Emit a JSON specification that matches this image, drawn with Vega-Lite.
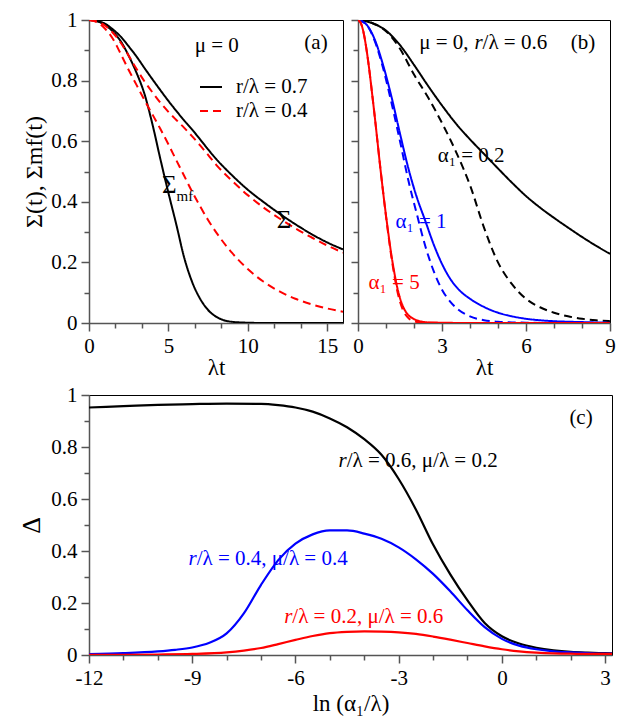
{
  "$schema": "https://vega.github.io/schema/vega-lite/v6.json",
  "background": "white",
  "padding": {"left": 18, "top": 8, "right": 5, "bottom": 5},
  "config": {
    "font": "Liberation Serif",
    "view": {"stroke": "black", "strokeWidth": 1},
    "axis": {
      "labelFont": "Liberation Serif", "labelFontSize": 21, "labelColor": "black",
      "titleFont": "Liberation Serif", "titleFontSize": 23, "titleFontWeight": "normal", "titleColor": "black",
      "grid": false, "domainColor": "#555", "tickColor": "#555", "domainWidth": 1.5, "tickWidth": 1.5,
      "labelPadding": 4, "labelFlush": false, "labelOverlap": false
    },
    "text": {"font": "Liberation Serif", "fontSize": 21, "baseline": "middle"},
    "line": {"interpolate": "monotone"}
  },
  "spacing": 3,
  "resolve": {"scale": {"color": "independent", "strokeDash": "independent"}},
  "vconcat": [
    {
      "spacing": 5,
      "resolve": {"scale": {"color": "independent", "strokeDash": "independent"}},
      "hconcat": [
        {
          "width": 254, "height": 303,
          "encoding": {
            "x": {"field": "t", "type": "quantitative", "scale": {"domain": [0, 16], "nice": false, "zero": false},
              "axis": {"title": "λt", "titlePadding": 0, "labelFont": "Liberation Serif", "titleFont": "Liberation Serif",
                "values": [0, 1.6667, 3.3333, 5, 6.6667, 8.3333, 10, 11.6667, 13.3333, 15],
                "labelExpr": "abs(datum.value % 5) < 0.001 ? toString(datum.value) : ''",
                "tickSize": {"condition": {"test": "abs(datum.value % 5) < 0.001", "value": 8}, "value": 5}}},
            "y": {"field": "v", "type": "quantitative", "scale": {"domain": [0, 1], "nice": false},
              "axis": {"title": "Σ(t), Σmf(t)", "titleFontSize": 24, "titlePadding": 4, "labelFont": "Liberation Serif", "titleFont": "Liberation Serif",
                "values": [0, 0.1, 0.2, 0.3, 0.4, 0.5, 0.6, 0.7, 0.8, 0.9, 1],
                "labelExpr": "round(datum.value*10) % 2 == 0 ? toString(datum.value) : ''",
                "tickSize": {"condition": {"test": "round(datum.value*10) % 2 == 0", "value": 8}, "value": 5}}}
          },
          "layer": [
            {
              "data": {"values": [
                {"t":0,"v":1,"r":"r/λ = 0.7","kind":"mf"},{"t":0.5,"v":0.996,"r":"r/λ = 0.7","kind":"mf"},{"t":1,"v":0.984,"r":"r/λ = 0.7","kind":"mf"},{"t":1.5,"v":0.962,"r":"r/λ = 0.7","kind":"mf"},{"t":2,"v":0.93,"r":"r/λ = 0.7","kind":"mf"},{"t":2.5,"v":0.882,"r":"r/λ = 0.7","kind":"mf"},{"t":3,"v":0.825,"r":"r/λ = 0.7","kind":"mf"},{"t":3.5,"v":0.755,"r":"r/λ = 0.7","kind":"mf"},{"t":4,"v":0.655,"r":"r/λ = 0.7","kind":"mf"},{"t":4.5,"v":0.54,"r":"r/λ = 0.7","kind":"mf"},{"t":5,"v":0.43,"r":"r/λ = 0.7","kind":"mf"},{"t":5.5,"v":0.325,"r":"r/λ = 0.7","kind":"mf"},{"t":6,"v":0.215,"r":"r/λ = 0.7","kind":"mf"},{"t":6.5,"v":0.135,"r":"r/λ = 0.7","kind":"mf"},{"t":7,"v":0.08,"r":"r/λ = 0.7","kind":"mf"},{"t":7.5,"v":0.043,"r":"r/λ = 0.7","kind":"mf"},{"t":8,"v":0.021,"r":"r/λ = 0.7","kind":"mf"},{"t":8.5,"v":0.009,"r":"r/λ = 0.7","kind":"mf"},{"t":9,"v":0.004,"r":"r/λ = 0.7","kind":"mf"},{"t":9.5,"v":0.002,"r":"r/λ = 0.7","kind":"mf"},{"t":10,"v":0.001,"r":"r/λ = 0.7","kind":"mf"},{"t":11,"v":0,"r":"r/λ = 0.7","kind":"mf"},{"t":13,"v":0,"r":"r/λ = 0.7","kind":"mf"},{"t":16,"v":0,"r":"r/λ = 0.7","kind":"mf"},
                {"t":0,"v":1,"r":"r/λ = 0.7","kind":"S"},{"t":0.5,"v":0.997,"r":"r/λ = 0.7","kind":"S"},{"t":1,"v":0.988,"r":"r/λ = 0.7","kind":"S"},{"t":1.5,"v":0.969,"r":"r/λ = 0.7","kind":"S"},{"t":2,"v":0.945,"r":"r/λ = 0.7","kind":"S"},{"t":2.5,"v":0.913,"r":"r/λ = 0.7","kind":"S"},{"t":3,"v":0.879,"r":"r/λ = 0.7","kind":"S"},{"t":3.5,"v":0.841,"r":"r/λ = 0.7","kind":"S"},{"t":4,"v":0.804,"r":"r/λ = 0.7","kind":"S"},{"t":4.5,"v":0.768,"r":"r/λ = 0.7","kind":"S"},{"t":5,"v":0.733,"r":"r/λ = 0.7","kind":"S"},{"t":5.5,"v":0.7,"r":"r/λ = 0.7","kind":"S"},{"t":6,"v":0.668,"r":"r/λ = 0.7","kind":"S"},{"t":6.5,"v":0.638,"r":"r/λ = 0.7","kind":"S"},{"t":7,"v":0.606,"r":"r/λ = 0.7","kind":"S"},{"t":7.5,"v":0.573,"r":"r/λ = 0.7","kind":"S"},{"t":8,"v":0.542,"r":"r/λ = 0.7","kind":"S"},{"t":9,"v":0.488,"r":"r/λ = 0.7","kind":"S"},{"t":10,"v":0.44,"r":"r/λ = 0.7","kind":"S"},{"t":11,"v":0.399,"r":"r/λ = 0.7","kind":"S"},{"t":12,"v":0.361,"r":"r/λ = 0.7","kind":"S"},{"t":13,"v":0.326,"r":"r/λ = 0.7","kind":"S"},{"t":14,"v":0.294,"r":"r/λ = 0.7","kind":"S"},{"t":15,"v":0.266,"r":"r/λ = 0.7","kind":"S"},{"t":16,"v":0.243,"r":"r/λ = 0.7","kind":"S"},
                {"t":0,"v":1,"r":"r/λ = 0.4","kind":"S"},{"t":0.5,"v":0.995,"r":"r/λ = 0.4","kind":"S"},{"t":1,"v":0.982,"r":"r/λ = 0.4","kind":"S"},{"t":1.5,"v":0.958,"r":"r/λ = 0.4","kind":"S"},{"t":2,"v":0.925,"r":"r/λ = 0.4","kind":"S"},{"t":2.5,"v":0.882,"r":"r/λ = 0.4","kind":"S"},{"t":3,"v":0.838,"r":"r/λ = 0.4","kind":"S"},{"t":3.5,"v":0.797,"r":"r/λ = 0.4","kind":"S"},{"t":4,"v":0.761,"r":"r/λ = 0.4","kind":"S"},{"t":4.5,"v":0.727,"r":"r/λ = 0.4","kind":"S"},{"t":5,"v":0.697,"r":"r/λ = 0.4","kind":"S"},{"t":5.5,"v":0.67,"r":"r/λ = 0.4","kind":"S"},{"t":6,"v":0.644,"r":"r/λ = 0.4","kind":"S"},{"t":6.5,"v":0.616,"r":"r/λ = 0.4","kind":"S"},{"t":7,"v":0.586,"r":"r/λ = 0.4","kind":"S"},{"t":7.5,"v":0.555,"r":"r/λ = 0.4","kind":"S"},{"t":8,"v":0.523,"r":"r/λ = 0.4","kind":"S"},{"t":9,"v":0.47,"r":"r/λ = 0.4","kind":"S"},{"t":10,"v":0.422,"r":"r/λ = 0.4","kind":"S"},{"t":11,"v":0.381,"r":"r/λ = 0.4","kind":"S"},{"t":12,"v":0.345,"r":"r/λ = 0.4","kind":"S"},{"t":13,"v":0.312,"r":"r/λ = 0.4","kind":"S"},{"t":14,"v":0.283,"r":"r/λ = 0.4","kind":"S"},{"t":15,"v":0.256,"r":"r/λ = 0.4","kind":"S"},{"t":16,"v":0.232,"r":"r/λ = 0.4","kind":"S"},
                {"t":0,"v":1,"r":"r/λ = 0.4","kind":"mf"},{"t":0.5,"v":0.993,"r":"r/λ = 0.4","kind":"mf"},{"t":1,"v":0.972,"r":"r/λ = 0.4","kind":"mf"},{"t":1.5,"v":0.938,"r":"r/λ = 0.4","kind":"mf"},{"t":2,"v":0.888,"r":"r/λ = 0.4","kind":"mf"},{"t":2.5,"v":0.835,"r":"r/λ = 0.4","kind":"mf"},{"t":3,"v":0.785,"r":"r/λ = 0.4","kind":"mf"},{"t":3.5,"v":0.735,"r":"r/λ = 0.4","kind":"mf"},{"t":4,"v":0.688,"r":"r/λ = 0.4","kind":"mf"},{"t":4.5,"v":0.64,"r":"r/λ = 0.4","kind":"mf"},{"t":5,"v":0.59,"r":"r/λ = 0.4","kind":"mf"},{"t":5.5,"v":0.537,"r":"r/λ = 0.4","kind":"mf"},{"t":6,"v":0.485,"r":"r/λ = 0.4","kind":"mf"},{"t":6.5,"v":0.433,"r":"r/λ = 0.4","kind":"mf"},{"t":7,"v":0.385,"r":"r/λ = 0.4","kind":"mf"},{"t":7.5,"v":0.34,"r":"r/λ = 0.4","kind":"mf"},{"t":8,"v":0.3,"r":"r/λ = 0.4","kind":"mf"},{"t":9,"v":0.232,"r":"r/λ = 0.4","kind":"mf"},{"t":10,"v":0.178,"r":"r/λ = 0.4","kind":"mf"},{"t":11,"v":0.136,"r":"r/λ = 0.4","kind":"mf"},{"t":12,"v":0.104,"r":"r/λ = 0.4","kind":"mf"},{"t":13,"v":0.08,"r":"r/λ = 0.4","kind":"mf"},{"t":14,"v":0.062,"r":"r/λ = 0.4","kind":"mf"},{"t":15,"v":0.048,"r":"r/λ = 0.4","kind":"mf"},{"t":16,"v":0.037,"r":"r/λ = 0.4","kind":"mf"}
              ]},
              "mark": {"type": "line", "strokeWidth": 2, "clip": true},
              "encoding": {
                "color": {"field": "r", "type": "nominal", "scale": {"domain": ["r/λ = 0.7", "r/λ = 0.4"], "range": ["black", "#ff0000"]},
                  "legend": {"title": null, "orient": "none", "legendX": 110, "legendY": 55, "symbolType": "stroke", "symbolSize": 484, "symbolStrokeWidth": 2, "labelFont": "Liberation Serif", "labelFontSize": 21, "labelOffset": 13, "rowPadding": 2, "padding": 0}},
                "strokeDash": {"field": "r", "type": "nominal", "scale": {"domain": ["r/λ = 0.7", "r/λ = 0.4"], "range": [[1, 0], [8, 5]]},
                  "legend": {"title": null, "orient": "none", "legendX": 110, "legendY": 55, "symbolType": "stroke", "symbolSize": 484, "symbolStrokeWidth": 2, "labelFont": "Liberation Serif", "labelFontSize": 21, "labelOffset": 13, "rowPadding": 2, "padding": 0}},
                "detail": {"field": "kind"}
              }
            },
            {
              "data": {"values": [{"t": 8.05, "v": 0.914, "label": "μ = 0"}, {"t": 14.3, "v": 0.924, "label": "(a)"}]},
              "mark": {"type": "text", "color": "black", "align": "center", "font": "Liberation Serif"},
              "encoding": {"text": {"field": "label"}}
            },
            {
              "data": {"values": [{"t": 5.05, "v": 0.455, "label": "Σ"}, {"t": 12.28, "v": 0.339, "label": "Σ"}]},
              "mark": {"type": "text", "color": "black", "align": "center", "fontSize": 25, "font": "Liberation Serif"},
              "encoding": {"text": {"field": "label"}}
            },
            {
              "data": {"values": [{"t": 6.04, "v": 0.419, "label": "mf"}]},
              "mark": {"type": "text", "color": "black", "align": "center", "fontSize": 15, "font": "Liberation Serif"},
              "encoding": {"text": {"field": "label"}}
            }
          ]
        },
        {
          "width": 252, "height": 303,
          "encoding": {
            "x": {"field": "t", "type": "quantitative", "scale": {"domain": [0, 9], "nice": false, "zero": false},
              "axis": {"title": "λt", "titlePadding": 0, "labelFont": "Liberation Serif", "titleFont": "Liberation Serif",
                "values": [0, 1, 2, 3, 4, 5, 6, 7, 8, 9],
                "labelExpr": "datum.value % 3 == 0 ? toString(datum.value) : ''",
                "tickSize": {"condition": {"test": "datum.value % 3 == 0", "value": 8}, "value": 5}}},
            "y": {"field": "v", "type": "quantitative", "scale": {"domain": [0, 1], "nice": false},
              "axis": {"title": null, "labels": false,
                "values": [0, 0.1, 0.2, 0.3, 0.4, 0.5, 0.6, 0.7, 0.8, 0.9, 1],
                "tickSize": {"condition": {"test": "round(datum.value*10) % 2 == 0", "value": 7}, "value": 5}}}
          },
          "layer": [
            {
              "data": {"values": [
                {"t":0,"v":1,"a":"0.2","kind":"S"},{"t":0.5,"v":0.99,"a":"0.2","kind":"S"},{"t":1,"v":0.965,"a":"0.2","kind":"S"},{"t":1.5,"v":0.917,"a":"0.2","kind":"S"},{"t":2,"v":0.852,"a":"0.2","kind":"S"},{"t":2.5,"v":0.783,"a":"0.2","kind":"S"},{"t":3,"v":0.718,"a":"0.2","kind":"S"},{"t":3.5,"v":0.658,"a":"0.2","kind":"S"},{"t":4,"v":0.606,"a":"0.2","kind":"S"},{"t":4.5,"v":0.558,"a":"0.2","kind":"S"},{"t":5,"v":0.51,"a":"0.2","kind":"S"},{"t":5.5,"v":0.463,"a":"0.2","kind":"S"},{"t":6,"v":0.419,"a":"0.2","kind":"S"},{"t":6.5,"v":0.381,"a":"0.2","kind":"S"},{"t":7,"v":0.347,"a":"0.2","kind":"S"},{"t":7.5,"v":0.315,"a":"0.2","kind":"S"},{"t":8,"v":0.284,"a":"0.2","kind":"S"},{"t":8.5,"v":0.255,"a":"0.2","kind":"S"},{"t":9,"v":0.228,"a":"0.2","kind":"S"},
                {"t":0,"v":1,"a":"0.2","kind":"mf"},{"t":0.5,"v":0.99,"a":"0.2","kind":"mf"},{"t":1,"v":0.963,"a":"0.2","kind":"mf"},{"t":1.5,"v":0.905,"a":"0.2","kind":"mf"},{"t":2,"v":0.82,"a":"0.2","kind":"mf"},{"t":2.5,"v":0.745,"a":"0.2","kind":"mf"},{"t":3,"v":0.66,"a":"0.2","kind":"mf"},{"t":3.5,"v":0.565,"a":"0.2","kind":"mf"},{"t":4,"v":0.455,"a":"0.2","kind":"mf"},{"t":4.5,"v":0.315,"a":"0.2","kind":"mf"},{"t":5,"v":0.2,"a":"0.2","kind":"mf"},{"t":5.5,"v":0.128,"a":"0.2","kind":"mf"},{"t":6,"v":0.08,"a":"0.2","kind":"mf"},{"t":6.5,"v":0.052,"a":"0.2","kind":"mf"},{"t":7,"v":0.034,"a":"0.2","kind":"mf"},{"t":7.5,"v":0.022,"a":"0.2","kind":"mf"},{"t":8,"v":0.014,"a":"0.2","kind":"mf"},{"t":8.5,"v":0.009,"a":"0.2","kind":"mf"},{"t":9,"v":0.006,"a":"0.2","kind":"mf"},
                {"t":0,"v":1,"a":"1","kind":"S"},{"t":0.3,"v":0.985,"a":"1","kind":"S"},{"t":0.6,"v":0.935,"a":"1","kind":"S"},{"t":0.9,"v":0.85,"a":"1","kind":"S"},{"t":1.2,"v":0.745,"a":"1","kind":"S"},{"t":1.5,"v":0.625,"a":"1","kind":"S"},{"t":1.8,"v":0.51,"a":"1","kind":"S"},{"t":2.1,"v":0.415,"a":"1","kind":"S"},{"t":2.4,"v":0.338,"a":"1","kind":"S"},{"t":2.7,"v":0.26,"a":"1","kind":"S"},{"t":3,"v":0.195,"a":"1","kind":"S"},{"t":3.3,"v":0.145,"a":"1","kind":"S"},{"t":3.6,"v":0.11,"a":"1","kind":"S"},{"t":4,"v":0.08,"a":"1","kind":"S"},{"t":4.5,"v":0.053,"a":"1","kind":"S"},{"t":5,"v":0.034,"a":"1","kind":"S"},{"t":5.5,"v":0.022,"a":"1","kind":"S"},{"t":6,"v":0.014,"a":"1","kind":"S"},{"t":6.5,"v":0.009,"a":"1","kind":"S"},{"t":7,"v":0.006,"a":"1","kind":"S"},{"t":8,"v":0.003,"a":"1","kind":"S"},{"t":9,"v":0.001,"a":"1","kind":"S"},
                {"t":0,"v":1,"a":"1","kind":"mf"},{"t":0.3,"v":0.985,"a":"1","kind":"mf"},{"t":0.6,"v":0.93,"a":"1","kind":"mf"},{"t":0.9,"v":0.84,"a":"1","kind":"mf"},{"t":1.2,"v":0.725,"a":"1","kind":"mf"},{"t":1.5,"v":0.6,"a":"1","kind":"mf"},{"t":1.8,"v":0.47,"a":"1","kind":"mf"},{"t":2.1,"v":0.36,"a":"1","kind":"mf"},{"t":2.4,"v":0.255,"a":"1","kind":"mf"},{"t":2.7,"v":0.172,"a":"1","kind":"mf"},{"t":3,"v":0.11,"a":"1","kind":"mf"},{"t":3.3,"v":0.07,"a":"1","kind":"mf"},{"t":3.6,"v":0.043,"a":"1","kind":"mf"},{"t":4,"v":0.022,"a":"1","kind":"mf"},{"t":4.5,"v":0.009,"a":"1","kind":"mf"},{"t":5,"v":0.004,"a":"1","kind":"mf"},{"t":5.5,"v":0.002,"a":"1","kind":"mf"},{"t":6,"v":0.001,"a":"1","kind":"mf"},{"t":7,"v":0,"a":"1","kind":"mf"},{"t":9,"v":0,"a":"1","kind":"mf"},
                {"t":0,"v":1,"a":"5","kind":"S"},{"t":0.1,"v":0.99,"a":"5","kind":"S"},{"t":0.2,"v":0.958,"a":"5","kind":"S"},{"t":0.3,"v":0.905,"a":"5","kind":"S"},{"t":0.4,"v":0.838,"a":"5","kind":"S"},{"t":0.5,"v":0.76,"a":"5","kind":"S"},{"t":0.6,"v":0.68,"a":"5","kind":"S"},{"t":0.7,"v":0.595,"a":"5","kind":"S"},{"t":0.8,"v":0.51,"a":"5","kind":"S"},{"t":0.9,"v":0.43,"a":"5","kind":"S"},{"t":1,"v":0.355,"a":"5","kind":"S"},{"t":1.1,"v":0.285,"a":"5","kind":"S"},{"t":1.2,"v":0.22,"a":"5","kind":"S"},{"t":1.3,"v":0.165,"a":"5","kind":"S"},{"t":1.4,"v":0.118,"a":"5","kind":"S"},{"t":1.5,"v":0.082,"a":"5","kind":"S"},{"t":1.6,"v":0.056,"a":"5","kind":"S"},{"t":1.7,"v":0.038,"a":"5","kind":"S"},{"t":1.8,"v":0.026,"a":"5","kind":"S"},{"t":2,"v":0.013,"a":"5","kind":"S"},{"t":2.2,"v":0.006,"a":"5","kind":"S"},{"t":2.5,"v":0.002,"a":"5","kind":"S"},{"t":3,"v":0.001,"a":"5","kind":"S"},{"t":4,"v":0,"a":"5","kind":"S"},{"t":9,"v":0,"a":"5","kind":"S"},
                {"t":0,"v":1,"a":"5","kind":"mf"},{"t":0.1,"v":0.99,"a":"5","kind":"mf"},{"t":0.2,"v":0.958,"a":"5","kind":"mf"},{"t":0.3,"v":0.905,"a":"5","kind":"mf"},{"t":0.4,"v":0.838,"a":"5","kind":"mf"},{"t":0.5,"v":0.76,"a":"5","kind":"mf"},{"t":0.6,"v":0.68,"a":"5","kind":"mf"},{"t":0.7,"v":0.595,"a":"5","kind":"mf"},{"t":0.8,"v":0.51,"a":"5","kind":"mf"},{"t":0.9,"v":0.43,"a":"5","kind":"mf"},{"t":1,"v":0.352,"a":"5","kind":"mf"},{"t":1.1,"v":0.28,"a":"5","kind":"mf"},{"t":1.2,"v":0.213,"a":"5","kind":"mf"},{"t":1.3,"v":0.156,"a":"5","kind":"mf"},{"t":1.4,"v":0.107,"a":"5","kind":"mf"},{"t":1.5,"v":0.07,"a":"5","kind":"mf"},{"t":1.6,"v":0.044,"a":"5","kind":"mf"},{"t":1.7,"v":0.027,"a":"5","kind":"mf"},{"t":1.8,"v":0.016,"a":"5","kind":"mf"},{"t":2,"v":0.006,"a":"5","kind":"mf"},{"t":2.2,"v":0.002,"a":"5","kind":"mf"},{"t":2.5,"v":0.001,"a":"5","kind":"mf"},{"t":3,"v":0,"a":"5","kind":"mf"},{"t":9,"v":0,"a":"5","kind":"mf"}
              ]},
              "mark": {"type": "line", "strokeWidth": 2, "clip": true},
              "encoding": {
                "color": {"field": "a", "type": "nominal", "scale": {"domain": ["0.2", "1", "5"], "range": ["black", "#0000ff", "#ff0000"]}, "legend": null},
                "strokeDash": {"field": "kind", "type": "nominal", "scale": {"domain": ["S", "mf"], "range": [[1, 0], [8, 5]]}, "legend": null},
                "detail": {"field": "a"}
              }
            },
            {
              "data": {"values": [{"t": 4.04, "v": 0.551, "a": "0.2", "label": "α₁ = 0.2"}, {"t": 2.25, "v": 0.333, "a": "1", "label": "α₁ = 1"}, {"t": 1.29, "v": 0.132, "a": "5", "label": "α₁ = 5"}]},
              "mark": {"type": "text", "align": "center", "font": "Liberation Serif"},
              "encoding": {"text": {"field": "label"}, "color": {"field": "a", "type": "nominal", "legend": null}}
            },
            {
              "data": {"values": [{"t": 4.45, "v": 0.924}]},
              "layer": [
                {"mark": {"type": "text", "align": "right", "dx": -14, "color": "black", "font": "Liberation Serif"}, "encoding": {"text": {"value": "μ = 0,"}}},
                {"mark": {"type": "text", "align": "right", "fontStyle": "italic", "color": "black", "font": "Liberation Serif"}, "encoding": {"text": {"value": "r"}}},
                {"mark": {"type": "text", "align": "left", "color": "black", "font": "Liberation Serif"}, "encoding": {"text": {"value": "/λ = 0.6"}}}
              ]
            },
            {
              "data": {"values": [{"t": 8.04, "v": 0.924, "label": "(b)"}]},
              "mark": {"type": "text", "align": "center", "color": "black", "font": "Liberation Serif"},
              "encoding": {"text": {"field": "label"}}
            }
          ]
        }
      ]
    },
    {
      "width": 523, "height": 260,
      "encoding": {
        "x": {"field": "a", "type": "quantitative", "scale": {"domain": [-12, 3.2], "nice": false, "zero": false},
          "axis": {"title": "ln (α₁/λ)", "titlePadding": 4, "labelFont": "Liberation Serif", "titleFont": "Liberation Serif",
            "values": [-12, -11, -10, -9, -8, -7, -6, -5, -4, -3, -2, -1, 0, 1, 2, 3],
            "labelExpr": "datum.value % 3 == 0 ? toString(datum.value) : ''",
            "tickSize": {"condition": {"test": "datum.value % 3 == 0", "value": 8}, "value": 5}}},
        "y": {"field": "d", "type": "quantitative", "scale": {"domain": [0, 1], "nice": false},
          "axis": {"title": "Δ", "titleFontSize": 26, "titlePadding": 6, "labelFont": "Liberation Serif", "titleFont": "Liberation Serif",
            "values": [0, 0.1, 0.2, 0.3, 0.4, 0.5, 0.6, 0.7, 0.8, 0.9, 1],
            "labelExpr": "round(datum.value*10) % 2 == 0 ? toString(datum.value) : ''",
            "tickSize": {"condition": {"test": "round(datum.value*10) % 2 == 0", "value": 8}, "value": 5}}}
      },
      "layer": [
        {
          "data": {"values": [
            {"a":-12,"d":0.952,"p":"0.6"},{"a":-11,"d":0.957,"p":"0.6"},{"a":-10,"d":0.962,"p":"0.6"},{"a":-9,"d":0.965,"p":"0.6"},{"a":-8,"d":0.967,"p":"0.6"},{"a":-7,"d":0.966,"p":"0.6"},{"a":-6.5,"d":0.961,"p":"0.6"},{"a":-6,"d":0.952,"p":"0.6"},{"a":-5.5,"d":0.936,"p":"0.6"},{"a":-5,"d":0.91,"p":"0.6"},{"a":-4.5,"d":0.876,"p":"0.6"},{"a":-4,"d":0.83,"p":"0.6"},{"a":-3.5,"d":0.77,"p":"0.6"},{"a":-3,"d":0.677,"p":"0.6"},{"a":-2.5,"d":0.56,"p":"0.6"},{"a":-2,"d":0.425,"p":"0.6"},{"a":-1.5,"d":0.31,"p":"0.6"},{"a":-1,"d":0.21,"p":"0.6"},{"a":-0.5,"d":0.123,"p":"0.6"},{"a":0,"d":0.072,"p":"0.6"},{"a":0.5,"d":0.044,"p":"0.6"},{"a":1,"d":0.028,"p":"0.6"},{"a":1.5,"d":0.018,"p":"0.6"},{"a":2,"d":0.012,"p":"0.6"},{"a":2.5,"d":0.009,"p":"0.6"},{"a":3,"d":0.007,"p":"0.6"},{"a":3.2,"d":0.006,"p":"0.6"},
            {"a":-12,"d":0.003,"p":"0.4"},{"a":-11,"d":0.007,"p":"0.4"},{"a":-10,"d":0.014,"p":"0.4"},{"a":-9.5,"d":0.02,"p":"0.4"},{"a":-9,"d":0.029,"p":"0.4"},{"a":-8.5,"d":0.047,"p":"0.4"},{"a":-8,"d":0.083,"p":"0.4"},{"a":-7.5,"d":0.16,"p":"0.4"},{"a":-7,"d":0.27,"p":"0.4"},{"a":-6.5,"d":0.365,"p":"0.4"},{"a":-6,"d":0.428,"p":"0.4"},{"a":-5.5,"d":0.464,"p":"0.4"},{"a":-5,"d":0.479,"p":"0.4"},{"a":-4.5,"d":0.479,"p":"0.4"},{"a":-4,"d":0.467,"p":"0.4"},{"a":-3.5,"d":0.447,"p":"0.4"},{"a":-3,"d":0.414,"p":"0.4"},{"a":-2.5,"d":0.368,"p":"0.4"},{"a":-2,"d":0.312,"p":"0.4"},{"a":-1.5,"d":0.245,"p":"0.4"},{"a":-1,"d":0.172,"p":"0.4"},{"a":-0.5,"d":0.107,"p":"0.4"},{"a":0,"d":0.062,"p":"0.4"},{"a":0.5,"d":0.036,"p":"0.4"},{"a":1,"d":0.022,"p":"0.4"},{"a":1.5,"d":0.014,"p":"0.4"},{"a":2,"d":0.01,"p":"0.4"},{"a":2.5,"d":0.007,"p":"0.4"},{"a":3,"d":0.005,"p":"0.4"},{"a":3.2,"d":0.005,"p":"0.4"},
            {"a":-12,"d":0.001,"p":"0.2"},{"a":-11,"d":0.001,"p":"0.2"},{"a":-10,"d":0.002,"p":"0.2"},{"a":-9,"d":0.004,"p":"0.2"},{"a":-8,"d":0.01,"p":"0.2"},{"a":-7.5,"d":0.017,"p":"0.2"},{"a":-7,"d":0.027,"p":"0.2"},{"a":-6.5,"d":0.042,"p":"0.2"},{"a":-6,"d":0.058,"p":"0.2"},{"a":-5.5,"d":0.073,"p":"0.2"},{"a":-5,"d":0.084,"p":"0.2"},{"a":-4.5,"d":0.089,"p":"0.2"},{"a":-4,"d":0.091,"p":"0.2"},{"a":-3.5,"d":0.09,"p":"0.2"},{"a":-3,"d":0.087,"p":"0.2"},{"a":-2.5,"d":0.081,"p":"0.2"},{"a":-2,"d":0.071,"p":"0.2"},{"a":-1.5,"d":0.059,"p":"0.2"},{"a":-1,"d":0.046,"p":"0.2"},{"a":-0.5,"d":0.033,"p":"0.2"},{"a":0,"d":0.022,"p":"0.2"},{"a":0.5,"d":0.014,"p":"0.2"},{"a":1,"d":0.009,"p":"0.2"},{"a":1.5,"d":0.006,"p":"0.2"},{"a":2,"d":0.005,"p":"0.2"},{"a":2.5,"d":0.004,"p":"0.2"},{"a":3,"d":0.004,"p":"0.2"},{"a":3.2,"d":0.004,"p":"0.2"}
          ]},
          "mark": {"type": "line", "strokeWidth": 2.2, "clip": true},
          "encoding": {
            "color": {"field": "p", "type": "nominal", "scale": {"domain": ["0.6", "0.4", "0.2"], "range": ["black", "#0000ff", "#ff0000"]}, "legend": null}
          }
        },
        {
          "data": {"values": [
            {"a": -4.51, "d": 0.746, "p": "0.6", "rest": "/λ = 0.6, μ/λ = 0.2"},
            {"a": -8.87, "d": 0.37, "p": "0.4", "rest": "/λ = 0.4, μ/λ = 0.4"},
            {"a": -6.09, "d": 0.146, "p": "0.2", "rest": "/λ = 0.2, μ/λ = 0.6"}
          ]},
          "layer": [
            {"mark": {"type": "text", "align": "right", "fontStyle": "italic", "font": "Liberation Serif"}, "encoding": {"text": {"value": "r"}, "color": {"field": "p", "type": "nominal", "legend": null}}},
            {"mark": {"type": "text", "align": "left", "font": "Liberation Serif"}, "encoding": {"text": {"field": "rest"}, "color": {"field": "p", "type": "nominal", "legend": null}}}
          ]
        },
        {
          "data": {"values": [{"a": 2.3, "d": 0.912, "label": "(c)"}]},
          "mark": {"type": "text", "align": "center", "color": "black", "font": "Liberation Serif"},
          "encoding": {"text": {"field": "label"}}
        }
      ]
    }
  ]
}
